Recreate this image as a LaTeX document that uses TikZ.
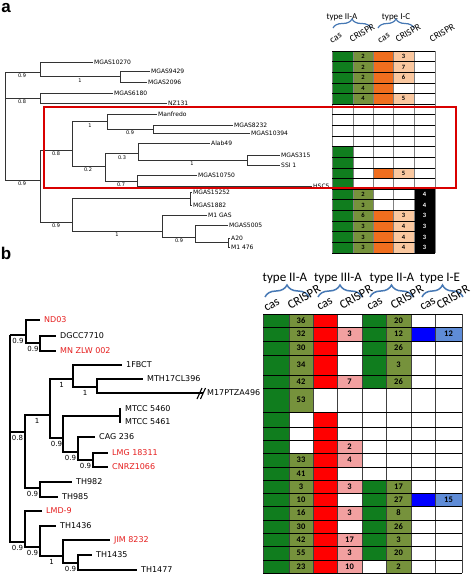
\documentclass[tikz,border=0pt]{standalone}
\usepackage{fontspec}
\usetikzlibrary{decorations.pathreplacing}
\newfontfamily\leaffont{DejaVu Sans}
\newfontfamily\hdrfont{Carlito}
\newfontfamily\panelfont{Liberation Sans}

\definecolor{casgreen}{RGB}{16,125,30}
\definecolor{crolive}{RGB}{118,146,60}
\definecolor{icorange}{RGB}{240,110,30}
\definecolor{icpeach}{RGB}{250,200,160}
\definecolor{iiired}{RGB}{255,0,0}
\definecolor{iiipink}{RGB}{242,160,160}
\definecolor{ieblue}{RGB}{0,0,255}
\definecolor{ielight}{RGB}{95,140,215}
\definecolor{bracecol}{RGB}{70,120,180}
\definecolor{strainred}{RGB}{230,30,30}

\tikzset{
  treea/.style={draw=black!80, line width=0.6pt},
  treeb/.style={draw=black, line width=1.1pt},
  leafa/.style={font=\leaffont\fontsize{6}{7}\selectfont, anchor=west, inner sep=1pt},
  leafb/.style={font=\leaffont\fontsize{8}{9}\selectfont, anchor=west, inner xsep=4pt, inner ysep=1pt},
  redleaf/.style={leafb, text=strainred},
  suppa/.style={font=\leaffont\fontsize{5}{6}\selectfont, inner sep=0pt},
  suppb/.style={font=\leaffont\fontsize{7}{8}\selectfont, inner sep=0pt},
  numa/.style={font=\hdrfont\bfseries\fontsize{6.5}{7}\selectfont, inner sep=0pt},
  numb/.style={font=\hdrfont\bfseries\fontsize{8.5}{9}\selectfont, inner sep=0pt},
  typea/.style={font=\hdrfont\fontsize{9}{10}\selectfont, inner sep=0pt},
  typeb/.style={font=\hdrfont\fontsize{13}{14}\selectfont, inner sep=0pt},
  cola/.style={font=\hdrfont\fontsize{9.5}{10}\selectfont, rotate=30, inner sep=0pt},
  colb/.style={font=\hdrfont\fontsize{12.5}{13}\selectfont, rotate=30, inner sep=0pt},
  bracea/.style={draw=bracecol, line width=1.2pt, decorate, decoration={brace, amplitude=9pt}},
  braceb/.style={draw=bracecol, line width=1.5pt, decorate, decoration={brace, amplitude=12pt}},
  redbox/.style={draw=red!85!black, line width=1.5pt},
  gridh/.style={draw=black, line width=0.7pt},
  gridv/.style={draw=black!50, line width=0.7pt},
  gridvb/.style={draw=black!75, line width=0.8pt},
  panel/.style={font=\panelfont\bfseries\fontsize{17}{18}\selectfont, inner sep=0pt}
}

\begin{document}
\begin{tikzpicture}[x=1pt,y=-1pt]
\useasboundingbox[fill=white] (0,0) rectangle (472,574);

% ---------------- panel a ----------------
\node[panel] (lab-a) at (6,8.5) {a};

% table a
\fill[casgreen] (332,51) rectangle (353,104.2);
\fill[casgreen] (332,146.7) rectangle (353,253);
\fill[crolive] (353,51) rectangle (373,104.2);
\fill[crolive] (353,189.2) rectangle (373,253);
\fill[icorange] (373,51) rectangle (393,104.2);
\fill[icorange] (373,167.9) rectangle (393,178.6);
\fill[icorange] (373,210.5) rectangle (393,253);
\foreach \r in {0,1,2,4,11,15,16,17,18}
  \fill[icpeach] (393,{51+10.63*\r}) rectangle (414,{61.63+10.63*\r});
\fill[black] (414,189.2) rectangle (435,253);
\foreach \x in {332,353,373,393,414,435}
  \draw[gridv] (\x,51) -- (\x,253);
\foreach \r in {0,...,19}
  \draw[gridh] (332,{51+10.63*\r}) -- (435,{51+10.63*\r});
\foreach \r/\n in {0/2,1/2,2/2,3/4,4/4,13/2,14/3,15/6,16/3,17/3,18/3}
  \node[numa] (na2-\r) at (363,{56.3+10.63*\r}) {\n};
\foreach \r/\n in {0/3,1/7,2/6,4/5,11/5,15/3,16/4,17/4,18/4}
  \node[numa] (na4-\r) at (403.5,{56.3+10.63*\r}) {\n};
\foreach \r/\n in {13/4,14/4,15/3,16/3,17/3,18/3}
  \node[numa, text=white] (na5-\r) at (424.5,{56.3+10.63*\r}) {\n};

% headers a
\node[typea] (ty-a1) at (342,17) {type II-A};
\node[typea] (ty-a2) at (396,17) {type I-C};
\draw[bracea] (333,28) -- (371,28);
\draw[bracea] (378,28) -- (414,28);
\node[cola] (ca1) at (336,38) {cas};
\node[cola] (ca2) at (362,33) {CRISPR};
\node[cola] (ca3) at (384,38) {cas};
\node[cola] (ca4) at (408,33) {CRISPR};
\node[cola] (ca5) at (442,33) {CRISPR};

% tree a
\coordinate (ra) at (5,72);
\coordinate (t1) at (40,72);
\coordinate (t2) at (120,76.5);
\coordinate (t3) at (40,98);
\coordinate (p1) at (40,180);
\coordinate (rc) at (72,150);
\coordinate (m1) at (107,121);
\coordinate (m2) at (153,129);
\coordinate (r2) at (105,166);
\coordinate (r3) at (138,153);
\coordinate (r5) at (247,160);
\coordinate (r4) at (137,181);
\coordinate (lc) at (72,222);
\coordinate (l1) at (190,198);
\coordinate (l2) at (162,231);
\coordinate (l3) at (195,237);
\coordinate (l4) at (228,242.5);

\node[leafa] (mgas10270) at (93,62) {MGAS10270};
\node[leafa] (mgas9429) at (150,71) {MGAS9429};
\node[leafa] (mgas2096) at (147,82) {MGAS2096};
\node[leafa] (mgas6180) at (113,93) {MGAS6180};
\node[leafa] (nz131) at (167,103) {NZ131};
\node[leafa] (manfredo) at (157,114) {Manfredo};
\node[leafa] (mgas8232) at (233,125) {MGAS8232};
\node[leafa] (mgas10394) at (250,133) {MGAS10394};
\node[leafa] (alab49) at (210,143) {Alab49};
\node[leafa] (mgas315) at (280,155) {MGAS315};
\node[leafa] (ssi1) at (280,165) {SSI 1};
\node[leafa] (mgas10750) at (197,175) {MGAS10750};
\node[leafa] (hsc5) at (312,186) {HSC5};
\node[leafa] (mgas15252) at (192,192) {MGAS15252};
\node[leafa] (mgas1882) at (192,205) {MGAS1882};
\node[leafa] (m1gas) at (207,215) {M1 GAS};
\node[leafa] (mgas5005) at (228,225) {MGAS5005};
\node[leafa] (a20) at (230,238) {A20};
\node[leafa] (m1476) at (230,247) {M1 476};

\draw[treea] (ra) |- (t1) (ra) |- (t3) (ra) |- (p1);
\draw[treea] (t1) |- (mgas10270.west) (t1) |- (t2);
\draw[treea] (t2) |- (mgas9429.west) (t2) |- (mgas2096.west);
\draw[treea] (t3) |- (mgas6180.west) (t3) |- (nz131.west);
\draw[treea] (p1) |- (rc) (p1) |- (lc);
\draw[treea] (rc) |- (m1) (rc) |- (r2);
\draw[treea] (m1) |- (manfredo.west) (m1) |- (m2);
\draw[treea] (m2) |- (mgas8232.west) (m2) |- (mgas10394.west);
\draw[treea] (r2) |- (r3) (r2) |- (r4);
\draw[treea] (r3) |- (alab49.west) (r3) |- (r5);
\draw[treea] (r5) |- (mgas315.west) (r5) |- (ssi1.west);
\draw[treea] (r4) |- (mgas10750.west) (r4) |- (hsc5.west);
\draw[treea] (lc) |- (l1) (lc) |- (l2);
\draw[treea] (l1) |- (mgas15252.west) (l1) |- (mgas1882.west);
\draw[treea] (l2) |- (m1gas.west) (l2) |- (l3);
\draw[treea] (l3) |- (mgas5005.west) (l3) |- (l4);
\draw[treea] (l4) |- (a20.west) (l4) |- (m1476.west);

\node[suppa] (s-t1) at (22,76) {0.9};
\node[suppa] (s-t2) at (80,81) {1};
\node[suppa] (s-t3) at (22,102) {0.8};
\node[suppa] (s-m1) at (90,126) {1};
\node[suppa] (s-m2) at (130,133) {0.9};
\node[suppa] (s-rc) at (56,154) {0.8};
\node[suppa] (s-r2) at (88,170) {0.2};
\node[suppa] (s-r3) at (122,158) {0.3};
\node[suppa] (s-r5) at (192,164) {1};
\node[suppa] (s-r4) at (121,185) {0.7};
\node[suppa] (s-p1) at (22,184) {0.9};
\node[suppa] (s-lc) at (56,226) {0.9};
\node[suppa] (s-l2) at (117,235) {1};
\node[suppa] (s-l3) at (179,241) {0.9};

\draw[redbox] (44,107) rectangle (456,188);

% ---------------- panel b ----------------
\node[panel] (lab-b) at (6,253) {b};

% table b
\fill[casgreen] (263,314) rectangle (289,573);
\fill[crolive] (289,314) rectangle (313,412);
\fill[crolive] (289,453) rectangle (313,573);
\fill[iiired] (313,314) rectangle (337,388);
\fill[iiired] (313,412) rectangle (337,573);
\foreach \ya/\yb in {327/341,375/388,440/453,453/467,480/493,506/520,533/546,546/560,560/573}
  \fill[iiipink] (337,\ya) rectangle (362,\yb);
\fill[casgreen] (362,314) rectangle (386,388);
\fill[casgreen] (362,480) rectangle (386,560);
\fill[crolive] (386,314) rectangle (411,388);
\fill[crolive] (386,480) rectangle (411,573);
\foreach \ya/\yb in {327/341,493/506} {
  \fill[ieblue] (411,\ya) rectangle (435,\yb);
  \fill[ielight] (435,\ya) rectangle (462,\yb);
}
\foreach \x in {263,289,313,337,362,386,411,435,462}
  \draw[gridvb] (\x,314) -- (\x,573);
\foreach \y in {314,327,341,355,375,388,412,427,440,453,467,480,493,506,520,533,546,560,573}
  \draw[gridh] (263,\y) -- (462,\y);
\foreach \y/\n [count=\i] in {320.5/36,334/32,348/30,365/34,381.5/42,400/53,460/33,473.5/41,486.5/3,499.5/10,513/16,526.5/30,539.5/42,553/55,566.5/23}
  \node[numb] (nb2-\i) at (301,\y) {\n};
\foreach \y/\n [count=\i] in {334/3,381.5/7,446.5/2,460/4,486.5/3,513/3,539.5/17,553/3,566.5/10}
  \node[numb] (nb4-\i) at (349.5,\y) {\n};
\foreach \y/\n [count=\i] in {320.5/20,334/12,348/26,365/3,381.5/26,486.5/17,499.5/27,513/8,526.5/26,539.5/3,553/20,566.5/2}
  \node[numb] (nb6-\i) at (398.5,\y) {\n};
\foreach \y/\n [count=\i] in {334/12,499.5/15}
  \node[numb] (nb8-\i) at (448.5,\y) {\n};

% headers b
\node[typeb] (ty-b1) at (285,278) {type II-A};
\node[typeb] (ty-b2) at (338,278) {type III-A};
\node[typeb] (ty-b3) at (392,278) {type II-A};
\node[typeb] (ty-b4) at (440,278) {type I-E};
\draw[braceb] (265,297) -- (309,297);
\draw[braceb] (318,297) -- (362,297);
\draw[braceb] (370,297) -- (413,297);
\draw[braceb] (422,297) -- (463,297);
\node[colb] (cb1) at (272,305) {cas};
\node[colb] (cb2) at (304,297) {CRISPR};
\node[colb] (cb3) at (325,304) {cas};
\node[colb] (cb4) at (356,297) {CRISPR};
\node[colb] (cb5) at (375,304) {cas};
\node[colb] (cb6) at (407,297) {CRISPR};
\node[colb] (cb7) at (428,304) {cas};
\node[colb] (cb8) at (453,297) {CRISPR};

% tree b
\coordinate (broot) at (10,335);
\coordinate (bnd) at (26,335);
\coordinate (bdg) at (40,343);
\coordinate (bq) at (25,432);
\coordinate (bp) at (50,415);
\coordinate (bx1) at (73,379);
\coordinate (bx2) at (97,387);
\coordinate (br) at (63,438);
\coordinate (bmt) at (120,416);
\coordinate (bs) at (78,452);
\coordinate (bu) at (93,460);
\coordinate (bv) at (40,488);
\coordinate (bw) at (25,542);
\coordinate (by) at (40,547);
\coordinate (byb) at (63,556);
\coordinate (bz) at (78,563);

\node[redleaf] (nd03) at (40,320) {ND03};
\node[leafb] (dgcc7710) at (56,336) {DGCC7710};
\node[redleaf] (mnzlw002) at (56,351) {MN ZLW 002};
\node[leafb] (fbct) at (122,365) {1FBCT};
\node[leafb] (mth17cl396) at (143,379) {MTH17CL396};
\node[leafb] (m17ptza496) at (203,393) {M17PTZA496};
\node[leafb] (mtcc5460) at (121,409) {MTCC 5460};
\node[leafb] (mtcc5461) at (121,422) {MTCC 5461};
\node[leafb] (cag236) at (95,437) {CAG 236};
\node[redleaf] (lmg18311) at (108,453) {LMG 18311};
\node[redleaf] (cnrz1066) at (108,467) {CNRZ1066};
\node[leafb] (th982) at (72,482) {TH982};
\node[leafb] (th985) at (58,497) {TH985};
\node[redleaf] (lmd9) at (42,511) {LMD-9};
\node[leafb] (th1436) at (56,526) {TH1436};
\node[redleaf] (jim8232) at (110,540) {JIM 8232};
\node[leafb] (th1435) at (92,555) {TH1435};
\node[leafb] (th1477) at (137,570) {TH1477};

\draw[treeb] (broot) |- (bnd) (broot) |- (bq) (broot) |- (bw);
\draw[treeb] (bnd) |- (nd03.west) (bnd) |- (bdg);
\draw[treeb] (bdg) |- (dgcc7710.west) (bdg) |- (mnzlw002.west);
\draw[treeb] (bq) |- (bp) (bq) |- (bv);
\draw[treeb] (bp) |- (bx1) (bp) |- (br);
\draw[treeb] (bx1) |- (fbct.west) (bx1) |- (bx2);
\draw[treeb] (bx2) |- (mth17cl396.west) (bx2) |- (m17ptza496.west);
\draw[treeb] (br) |- (bmt) (br) |- (bs);
\draw[treeb] (bmt) |- (mtcc5460.west) (bmt) |- (mtcc5461.west);
\draw[treeb] (bs) |- (cag236.west) (bs) |- (bu);
\draw[treeb] (bu) |- (lmg18311.west) (bu) |- (cnrz1066.west);
\draw[treeb] (bv) |- (th982.west) (bv) |- (th985.west);
\draw[treeb] (bw) |- (lmd9.west) (bw) |- (by);
\draw[treeb] (by) |- (th1436.west) (by) |- (byb);
\draw[treeb] (byb) |- (jim8232.west) (byb) |- (bz);
\draw[treeb] (bz) |- (th1435.west) (bz) |- (th1477.west);
% break on the long branch
\draw[treeb] ([shift={(-6,6)}]m17ptza496.west) -- ++(5,-11);
\draw[treeb] ([shift={(-2.5,6)}]m17ptza496.west) -- ++(5,-11);

\node[suppb] (s-bnd) at (18,341) {0.9};
\node[suppb] (s-bdg) at (33,349) {0.9};
\node[suppb] (s-bq) at (17.5,438) {0.8};
\node[suppb] (s-bp) at (37,421) {1};
\node[suppb] (s-bx1) at (61.5,385) {1};
\node[suppb] (s-bx2) at (85,393) {1};
\node[suppb] (s-br) at (56.5,444) {0.9};
\node[suppb] (s-bs) at (70.5,458) {0.9};
\node[suppb] (s-bu) at (85.5,466) {0.9};
\node[suppb] (s-bv) at (32.5,494) {0.9};
\node[suppb] (s-bw) at (17.5,548) {0.9};
\node[suppb] (s-by) at (32.5,553) {0.9};
\node[suppb] (s-byb) at (51.5,562) {1};
\node[suppb] (s-bz) at (70.5,569) {0.9};
\end{tikzpicture}
\end{document}
